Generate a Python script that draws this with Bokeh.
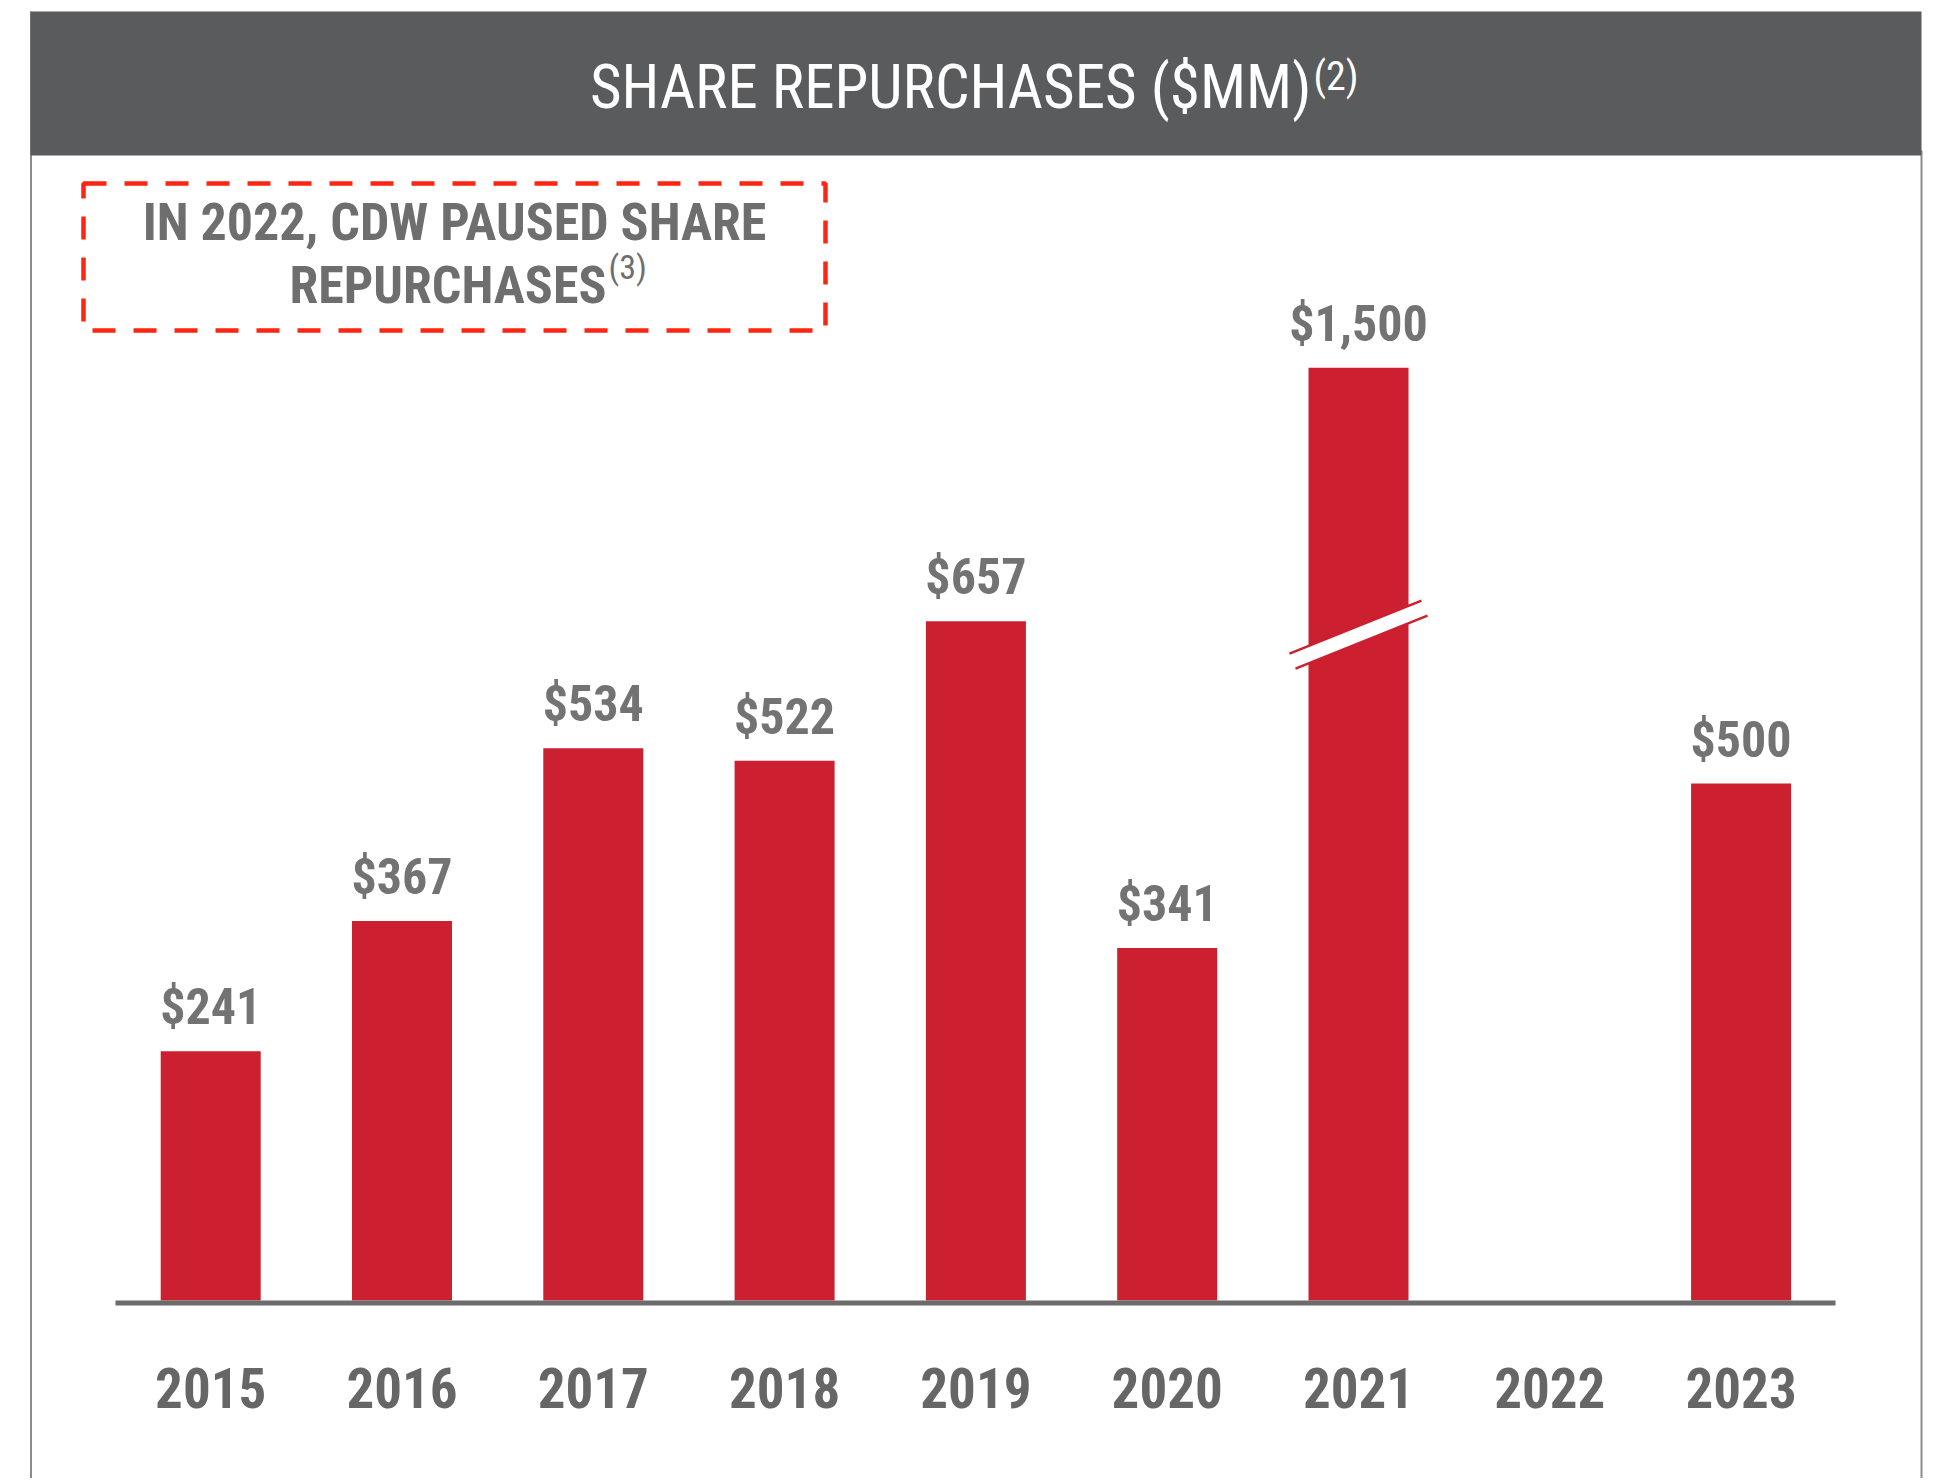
from bokeh.plotting import figure
from bokeh.models import Range1d
from bokeh.core.properties import value
from bokeh.embed import file_html
from bokeh.resources import INLINE

# ---------------- data ----------------
years = ["2015", "2016", "2017", "2018", "2019", "2020", "2021", "2022", "2023"]
repurchases = [241, 367, 534, 522, 657, 341, 1500, 0, 500]
value_labels = ["$241", "$367", "$534", "$522", "$657", "$341", "$1,500", "", "$500"]
broken_year = "2021"
title_text = "SHARE REPURCHASES ($MM)"
title_note = "(2)"
callout_line1 = "IN 2022, CDW PAUSED SHARE"
callout_line2 = "REPURCHASES"
callout_note = "(3)"

# ---------------- layout / style ----------------
W, H = 1936, 1478
OFF = 0                      # page offset of the figure
BAR_STEP_PX = 191.3          # px between bar centres
FIRST_BAR_PX = 210.2         # page px of first bar centre
BASE_PX = 1300               # page px of bar bottom
PX_PER_UNIT = 1.034          # px per $MM
BREAK_CAP = 902              # displayed height of the broken bar
BREAK_AT = 644               # height of the break marks
BAR_W_PX = 100
BASELINE_FIX = 0.40          # svg baseline correction (fraction of font size)

BAR_COLOR = "#cc1f2f"
HEADER_COLOR = "#5a5b5d"
LABEL_COLOR = "#737373"
YEAR_COLOR = "#666666"
CALLOUT_COLOR = "#6e6e6e"
DASH_COLOR = "#fe2512"
FONT = "Roboto Condensed"

x_start = -(FIRST_BAR_PX - OFF) / BAR_STEP_PX
x_end = x_start + W / BAR_STEP_PX
y_end = (BASE_PX - OFF) / PX_PER_UNIT
y_start = y_end - H / PX_PER_UNIT


def fx(X):
    return x_start + (X - OFF) / BAR_STEP_PX


def fy(Y):
    return y_end - (Y - OFF) / PX_PER_UNIT


p = figure(width=W, height=H, output_backend="svg", toolbar_location=None,
           x_range=Range1d(x_start, x_end), y_range=Range1d(y_start, y_end),
           min_border=0, background_fill_color="white", border_fill_color="white")
p.axis.visible = False
p.grid.visible = False
p.outline_line_color = None


def label(X, baseline_px, txt, size, color, align="center", style="normal"):
    p.text(x=[fx(X)], y=[fy(baseline_px - BASELINE_FIX * size)], text=[txt],
           text_align=align, text_baseline="alphabetic", text_color=color,
           text_font=value(FONT), text_font_size=f"{size}px",
           text_font_style=style)


# frame lines
p.segment(x0=[fx(30.5)], y0=[fy(11)], x1=[fx(30.5)], y1=[fy(1481)],
          line_color="#8c8c8c", line_width=2)
p.segment(x0=[fx(1921)], y0=[fy(150)], x1=[fx(1921)], y1=[fy(1481)],
          line_color="#8c8c8c", line_width=2)

# header bar
p.quad(left=[fx(30)], right=[fx(1921)], top=[fy(11)], bottom=[fy(155)],
       fill_color=HEADER_COLOR, line_color=None)
label(1311, 111, title_text, 61, "white", align="right")
label(1313, 92, title_note, 40, "white", align="left")

# callout box
p.quad(left=[fx(83)], right=[fx(825)], top=[fy(183)], bottom=[fy(330)],
       fill_alpha=0, line_color=DASH_COLOR, line_width=4.5, line_dash="23 18")
label(454, 243, callout_line1, 52, CALLOUT_COLOR, style="bold")
label(606, 306, callout_line2, 52, CALLOUT_COLOR, align="right", style="bold")
label(608, 280, callout_note, 34, CALLOUT_COLOR, align="left")

# bars
idx = list(range(len(years)))
shown = [min(v, BREAK_CAP) for v in repurchases]
bx = [i for i, v in zip(idx, repurchases) if v > 0]
bt = [s for s, v in zip(shown, repurchases) if v > 0]
p.vbar(x=bx, top=bt, bottom=0, width=BAR_W_PX / BAR_STEP_PX,
       fill_color=BAR_COLOR, line_color=None)

# axis break on the broken bar
bi = years.index(broken_year)
cX = FIRST_BAR_PX + bi * BAR_STEP_PX
cY = BASE_PX - BREAK_AT * PX_PER_UNIT
up = [(-69, 19), (63, -34)]
lo = [(-63, 34), (69, -19)]
p.patch(x=[fx(cX + a) for a, b in [up[0], up[1], lo[1], lo[0]]],
        y=[fy(cY + b) for a, b in [up[0], up[1], lo[1], lo[0]]],
        fill_color="white", line_color=None)
for seg in (up, lo):
    p.line(x=[fx(cX + a) for a, b in seg], y=[fy(cY + b) for a, b in seg],
           line_color=BAR_COLOR, line_width=2.5)

# baseline
p.segment(x0=[fx(115)], y0=[fy(1302.5)], x1=[fx(1835)], y1=[fy(1302.5)],
          line_color="#6b6b6b", line_width=5)

# value labels
VAL_FS = 50
LABEL_GAP_PX = 24
lx = [i for i, t in zip(idx, value_labels) if t]
ly = [s + (LABEL_GAP_PX + BASELINE_FIX * VAL_FS) / PX_PER_UNIT
      for s, t in zip(shown, value_labels) if t]
lt = [t for t in value_labels if t]
p.text(x=lx, y=ly, text=lt, text_align="center", text_baseline="alphabetic",
       text_color=LABEL_COLOR, text_font=value(FONT), text_font_size=f"{VAL_FS}px",
       text_font_style="bold")

# year labels
YEAR_FS = 55
p.text(x=idx, y=[fy(1409 - BASELINE_FIX * YEAR_FS)] * len(idx), text=years,
       text_align="center", text_baseline="alphabetic", text_color=YEAR_COLOR,
       text_font=value(FONT), text_font_size=f"{YEAR_FS}px", text_font_style="bold")

open("out.html", "w").write(file_html(p, INLINE))
